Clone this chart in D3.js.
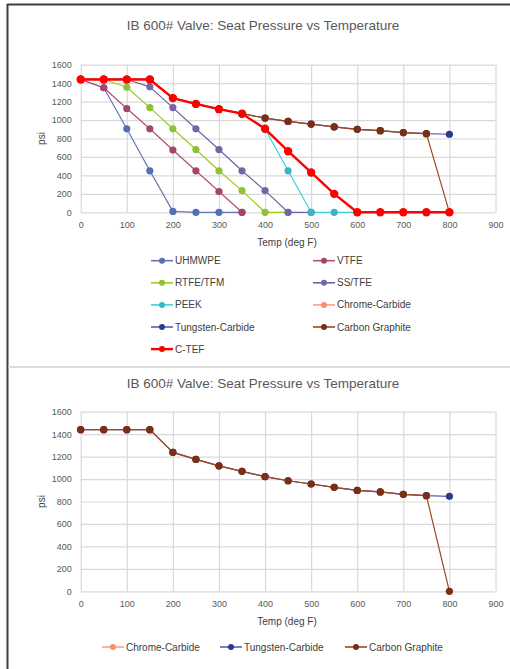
<!DOCTYPE html>
<html>
<head>
<meta charset="utf-8">
<script src="https://cdn.jsdelivr.net/npm/d3@7"></script>
<style>
  body { margin: 0; background: #fff; }
  svg { display: block; font-family: "Liberation Sans", Arial, sans-serif; }
</style>
</head>
<body>
<svg id="page"></svg>
<script>
// Chart data
const temps = [0, 50, 100, 150, 200, 250, 300, 350, 400, 450, 500, 550, 600, 650, 700, 750, 800];
const xTicks = [0, 100, 200, 300, 400, 500, 600, 700, 800, 900];
const yTicks = [0, 200, 400, 600, 800, 1000, 1200, 1400, 1600];

const uhmwpe   = [1440, 1350, 905, 450, 10, 0, 0, 0, null, null, null, null, null, null, null, null, null];
const vtfe     = [1440, 1350, 1125, 905, 675, 450, 225, 0, null, null, null, null, null, null, null, null, null];
const rtfe     = [1440, 1440, 1355, 1135, 905, 680, 450, 235, 0, 0, null, null, null, null, null, null, null];
const sstfe    = [1440, 1440, 1440, 1360, 1135, 905, 680, 450, 235, 0, 0, null, null, null, null, null, null];
const peek     = [1440, 1440, 1440, 1440, 1238, 1175, 1118, 1069, 905, 450, 0, 0, 0, null, null, null, null];
const chrome   = [1440, 1440, 1440, 1440, 1238, 1175, 1118, 1069, 1021, 985, 956, 926, 899, 885, 864, 852, null];
const tungsten = [1440, 1440, 1440, 1440, 1238, 1175, 1118, 1069, 1021, 985, 956, 926, 899, 885, 864, 852, 846];
const graphite = [1440, 1440, 1440, 1440, 1238, 1175, 1118, 1069, 1021, 985, 956, 926, 899, 885, 864, 852, 0];
const ctef     = [1440, 1440, 1440, 1440, 1238, 1175, 1118, 1069, 905, 662, 432, 200, 0, 0, 0, 0, 0];

const S = {
  uhmwpe:   { name: "UHMWPE",           values: uhmwpe,   line: "#6a72b0", dot: "#5470b5", w: 1.2, r: 3.6 },
  vtfe:     { name: "VTFE",             values: vtfe,     line: "#b04f77", dot: "#a5456b", w: 1.2, r: 3.6 },
  rtfe:     { name: "RTFE/TFM",         values: rtfe,     line: "#9ccc1e", dot: "#8fc13a", w: 1.2, r: 3.6 },
  sstfe:    { name: "SS/TFE",           values: sstfe,    line: "#6e64a4", dot: "#7664a6", w: 1.2, r: 3.6 },
  peek:     { name: "PEEK",             values: peek,     line: "#3fd0d4", dot: "#38b6c6", w: 1.2, r: 3.6 },
  chrome:   { name: "Chrome-Carbide",   values: chrome,   line: "#ff9f96", dot: "#fb8f6e", w: 1.2, r: 3.6 },
  tungsten: { name: "Tungsten-Carbide", values: tungsten, line: "#5a5fb0", dot: "#2d3a8c", w: 1.2, r: 3.6 },
  graphite: { name: "Carbon Graphite",  values: graphite, line: "#9a4a22", dot: "#7a2e12", w: 1.2, r: 3.6 },
  ctef:     { name: "C-TEF",            values: ctef,     line: "#ff0000", dot: "#ff0000", w: 2.4, r: 4.2 }
};

const width = 510, height = 669;
const svg = d3.select("#page").attr("width", width).attr("height", height);

// page frame
svg.append("line").attr("x1", 7.5).attr("x2", 7.5).attr("y1", 4).attr("y2", height)
  .attr("stroke", "#3f3f3f").attr("stroke-width", 2);
svg.append("line").attr("x1", 7).attr("x2", width).attr("y1", 4.5).attr("y2", 4.5)
  .attr("stroke", "#3f3f3f").attr("stroke-width", 2);
svg.append("line").attr("x1", 8).attr("x2", width).attr("y1", 367).attr("y2", 367)
  .attr("stroke", "#d0d0d0").attr("stroke-width", 1.5);

const x = d3.scaleLinear().domain([0, 900]).range([80.7, 495.5]);

function drawChart(opt) {
  const y = d3.scaleLinear().domain([0, 1600]).range([opt.y0, opt.y1]);
  const g = svg.append("g");
  const plotW = x.range()[1] - x.range()[0];
  const plotH = opt.y0 - opt.y1;

  // title
  g.append("text").attr("x", 263).attr("y", opt.titleY)
    .attr("text-anchor", "middle").attr("font-size", 13.5).attr("fill", "#595959")
    .text("IB 600# Valve: Seat Pressure vs Temperature");

  // axes + gridlines
  const yAxis = g.append("g").attr("transform", `translate(${x.range()[0]},0)`)
    .call(d3.axisLeft(y).tickValues(yTicks).tickFormat(d3.format("d")).tickSize(-plotW).tickPadding(9));
  const xAxis = g.append("g").attr("transform", `translate(0,${opt.y0})`)
    .call(d3.axisBottom(x).tickValues(xTicks).tickFormat(d3.format("d")).tickSize(-plotH).tickPadding(9));
  [yAxis, xAxis].forEach(a => {
    a.select(".domain").remove();
    a.selectAll("line").attr("stroke", "#d9d9d9").attr("stroke-width", 1.2);
    a.selectAll("text").attr("font-size", 9).attr("fill", "#595959")
      .attr("font-family", "Liberation Sans, Arial, sans-serif");
  });

  // axis titles
  g.append("text").attr("x", 287).attr("y", opt.y0 + 34)
    .attr("text-anchor", "middle").attr("font-size", 10).attr("fill", "#404040")
    .text("Temp (deg F)");
  g.append("text")
    .attr("transform", `translate(45,${(opt.y0 + opt.y1) / 2}) rotate(-90)`)
    .attr("text-anchor", "middle").attr("font-size", 10).attr("fill", "#404040")
    .text("psi");

  // series
  const line = d3.line()
    .defined(d => d.v != null)
    .x(d => x(d.t)).y(d => y(d.v));
  opt.series.forEach(s => {
    const pts = temps.map((t, i) => ({ t: t, v: s.values[i] }));
    const sg = g.append("g");
    sg.append("path").datum(pts).attr("d", line)
      .attr("fill", "none").attr("stroke", s.line).attr("stroke-width", s.w)
      .attr("stroke-linejoin", "round");
    sg.selectAll("circle").data(pts.filter(d => d.v != null)).enter().append("circle")
      .attr("cx", d => x(d.t)).attr("cy", d => y(d.v)).attr("r", s.r)
      .attr("fill", s.dot);
  });

  // legend
  opt.legend.forEach(item => {
    const s = item.s;
    const lg = g.append("g").attr("transform", `translate(${item.x},${item.y})`);
    lg.append("line").attr("x1", 0).attr("x2", 22).attr("stroke", s.line)
      .attr("stroke-width", s.w === 2.4 ? 2.4 : 1.6);
    lg.append("circle").attr("cx", 11).attr("r", 3).attr("fill", s.dot);
    lg.append("text").attr("x", 24).attr("dy", "0.35em")
      .attr("font-size", 10).attr("fill", "#404040").text(s.name);
  });
}

const topOrder = ["uhmwpe", "vtfe", "rtfe", "sstfe", "peek", "chrome", "tungsten", "graphite", "ctef"];
drawChart({
  y0: 212.3, y1: 64.7, titleY: 30,
  series: topOrder.map(k => S[k]),
  legend: topOrder.map((k, i) => ({
    s: S[k], x: i % 2 === 0 ? 151 : 313, y: 260.7 + 22.1 * Math.floor(i / 2)
  }))
});

const bottomOrder = ["chrome", "tungsten", "graphite"];
const bottomLegendX = [102, 220, 345];
drawChart({
  y0: 591.3, y1: 411.7, titleY: 388,
  series: bottomOrder.map(k => S[k]),
  legend: bottomOrder.map((k, i) => ({ s: S[k], x: bottomLegendX[i], y: 647 }))
});
</script>
</body>
</html>
